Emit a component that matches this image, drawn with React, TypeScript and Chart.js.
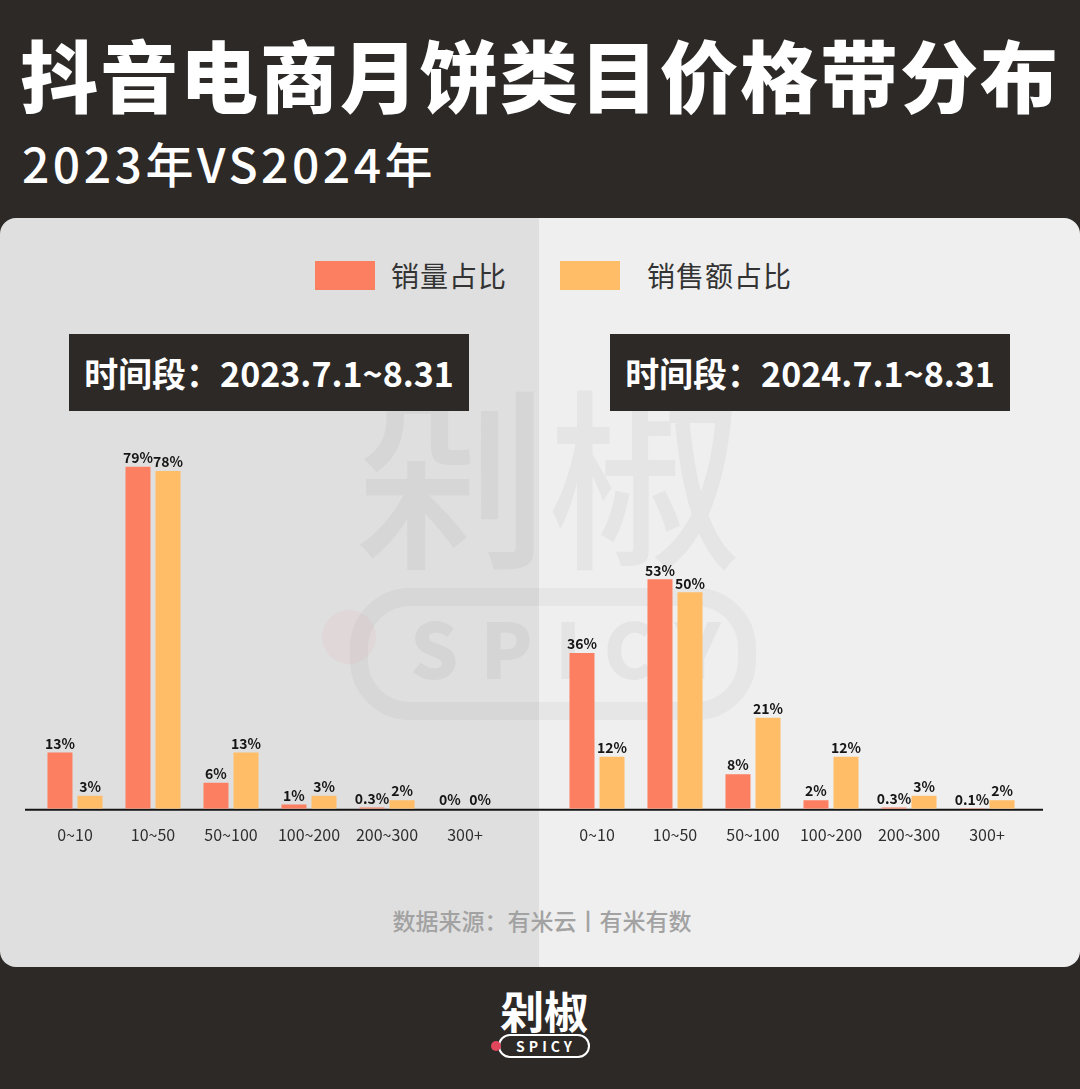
import React, { useEffect, useRef } from "react";
import { Chart, registerables } from "chart.js";

Chart.register(...registerables);

const categories = ["0~10", "10~50", "50~100", "100~200", "200~300", "300+"];
const volume2023 = [13, 79, 6, 1, 0.3, 0];
const sales2023 = [3, 78, 13, 3, 2, 0];
const volume2024 = [36, 53, 8, 2, 0.3, 0.1];
const sales2024 = [12, 50, 21, 12, 3, 2];
const seriesNames = ["销量占比", "销售额占比"];
const seriesColors = ["#fd7f61", "#ffbd68"];

const FONT = '"Noto Sans CJK SC", "Noto Sans", sans-serif';

const fmt = (v: number) => `${v}%`;

const barPlugin = {
  id: "valueLabelsAndAxis",
  beforeDatasetsDraw(chart: any) {
    const { ctx, chartArea } = chart;
    ctx.save();
    ctx.strokeStyle = "#141414";
    ctx.lineWidth = 2;
    ctx.beginPath();
    ctx.moveTo(0, chartArea.bottom + 1);
    ctx.lineTo(chart.width, chartArea.bottom + 1);
    ctx.stroke();
    ctx.restore();
  },
  afterDatasetsDraw(chart: any) {
    const { ctx } = chart;
    ctx.save();
    ctx.font = `bold 14px ${FONT}`;
    ctx.fillStyle = "#151515";
    ctx.textAlign = "center";
    ctx.textBaseline = "bottom";
    chart.data.datasets.forEach((ds: any, i: number) => {
      const meta = chart.getDatasetMeta(i);
      meta.data.forEach((bar: any, j: number) => {
        ctx.fillText(fmt(ds.data[j]), bar.x, bar.y - 2);
      });
    });
    ctx.restore();
  },
};

function BarChart(props: {
  a: number[];
  b: number[];
  width: number;
  height: number;
  padLeft: number;
  padRight: number;
}) {
  const ref = useRef<HTMLCanvasElement | null>(null);
  useEffect(() => {
    if (!ref.current) return;
    const chart = new Chart(ref.current, {
      type: "bar",
      data: {
        labels: categories,
        datasets: [
          {
            label: seriesNames[0],
            data: props.a,
            backgroundColor: seriesColors[0],
            categoryPercentage: 0.77,
            barPercentage: 0.833,
          },
          {
            label: seriesNames[1],
            data: props.b,
            backgroundColor: seriesColors[1],
            categoryPercentage: 0.77,
            barPercentage: 0.833,
          },
        ],
      },
      options: {
        responsive: false,
        animation: false,
        devicePixelRatio: 1,
        layout: {
          padding: { left: props.padLeft, right: props.padRight, top: 19, bottom: 16 },
        },
        plugins: { legend: { display: false }, tooltip: { enabled: false } },
        scales: {
          y: { display: false, min: 0, max: 90 },
          x: {
            grid: { display: false, drawTicks: false },
            border: { display: false },
            ticks: {
              color: "#2e2e2e",
              font: { family: FONT, size: 16 },
              padding: 17,
            },
          },
        },
      },
      plugins: [barPlugin],
    });
    return () => chart.destroy();
  }, []);
  return <canvas ref={ref} width={props.width} height={props.height} />;
}

export default function App() {
  const abs = (o: React.CSSProperties): React.CSSProperties => ({ position: "absolute", ...o });
  return (
    <div
      style={{
        position: "fixed",
        left: 0,
        top: 0,
        width: 1080,
        height: 1089,
        background: "#2c2927",
        overflow: "hidden",
        fontFamily: FONT,
      }}
    >
      {/* Title */}
      <div
        style={abs({
          left: 20,
          top: 32,
          fontSize: 78,
          fontWeight: 900,
          color: "#fff",
          lineHeight: "82px",
          letterSpacing: 2,
          whiteSpace: "nowrap",
        })}
      >
        抖音电商月饼类目价格带分布
      </div>
      <div
        style={abs({
          left: 22,
          top: 134,
          fontSize: 48,
          fontWeight: 500,
          color: "#fff",
          lineHeight: "56px",
          letterSpacing: 3.5,
          whiteSpace: "nowrap",
        })}
      >
        2023年VS2024年
      </div>

      {/* Panel */}
      <div
        style={abs({
          left: 0,
          top: 218,
          width: 1080,
          height: 749,
          borderRadius: 16,
          overflow: "hidden",
          background: "linear-gradient(to right, #dfdfdf 0, #dfdfdf 539px, #efefef 539px, #efefef 100%)",
        })}
      />

      {/* Watermark */}
      <div
        style={abs({
          left: 355,
          top: 360,
          fontSize: 193,
          fontWeight: 500,
          color: "rgba(0,0,0,0.04)",
          lineHeight: "220px",
          whiteSpace: "nowrap",
        })}
      >
        剁椒
      </div>
      <div
        style={abs({
          left: 350,
          top: 588,
          width: 370,
          height: 96,
          border: "18px solid rgba(0,0,0,0.035)",
          borderRadius: 60,
        })}
      />
      <div
        style={abs({
          left: 322,
          top: 610,
          width: 54,
          height: 54,
          borderRadius: 27,
          background: "rgba(230,80,90,0.05)",
        })}
      />
      <div
        style={abs({
          left: 410,
          top: 596,
          fontSize: 76,
          fontWeight: 900,
          letterSpacing: 22,
          color: "rgba(0,0,0,0.045)",
          lineHeight: "100px",
          whiteSpace: "nowrap",
        })}
      >
        SPICY
      </div>

      {/* Legend */}
      <div style={abs({ left: 315, top: 261, width: 60, height: 29, background: seriesColors[0] })} />
      <div style={abs({ left: 391, top: 256, fontSize: 28, color: "#333", lineHeight: "38px", letterSpacing: 1 })}>
        {seriesNames[0]}
      </div>
      <div style={abs({ left: 560, top: 261, width: 60, height: 29, background: seriesColors[1] })} />
      <div style={abs({ left: 647, top: 256, fontSize: 28, color: "#333", lineHeight: "38px", letterSpacing: 1 })}>
        {seriesNames[1]}
      </div>

      {/* Period boxes */}
      <div
        style={abs({
          left: 69,
          top: 334,
          width: 400,
          height: 77,
          background: "#2c2927",
          color: "#fff",
          fontSize: 34,
          fontWeight: 700,
          lineHeight: "77px",
          textAlign: "center",
          whiteSpace: "nowrap",
        })}
      >
        时间段：2023.7.1~8.31
      </div>
      <div
        style={abs({
          left: 610,
          top: 334,
          width: 400,
          height: 77,
          background: "#2c2927",
          color: "#fff",
          fontSize: 34,
          fontWeight: 700,
          lineHeight: "77px",
          textAlign: "center",
          whiteSpace: "nowrap",
        })}
      >
        时间段：2024.7.1~8.31
      </div>

      {/* Charts */}
      <div style={abs({ left: 25, top: 400 })}>
        <BarChart a={volume2023} b={sales2023} width={515} height={478} padLeft={11} padRight={36} />
      </div>
      <div style={abs({ left: 540, top: 400 })}>
        <BarChart a={volume2024} b={sales2024} width={503} height={478} padLeft={18} padRight={17} />
      </div>

      {/* Source */}
      <div
        style={abs({
          left: 0,
          width: 1084,
          top: 904,
          textAlign: "center",
          fontSize: 23,
          fontWeight: 500,
          color: "#a2a2a2",
          lineHeight: "32px",
          whiteSpace: "nowrap",
        })}
      >
        数据来源：有米云丨有米有数
      </div>

      {/* Bottom logo */}
      <div
        style={abs({
          left: 0,
          width: 1088,
          top: 985,
          textAlign: "center",
          fontSize: 44,
          fontWeight: 700,
          color: "#fff",
          lineHeight: "50px",
          whiteSpace: "nowrap",
        })}
      >
        剁椒
      </div>
      <div
        style={abs({
          left: 498,
          top: 1034,
          width: 92,
          height: 24,
          border: "2px solid #fff",
          borderRadius: 13,
          boxSizing: "border-box",
          color: "#fff",
          fontSize: 14,
          fontWeight: 700,
          lineHeight: "20px",
          letterSpacing: 4,
          textAlign: "center",
          paddingLeft: 4,
        })}
      >
        SPICY
      </div>
      <div style={abs({ left: 491, top: 1041, width: 10, height: 10, borderRadius: 5, background: "#e0475d" })} />
    </div>
  );
}
